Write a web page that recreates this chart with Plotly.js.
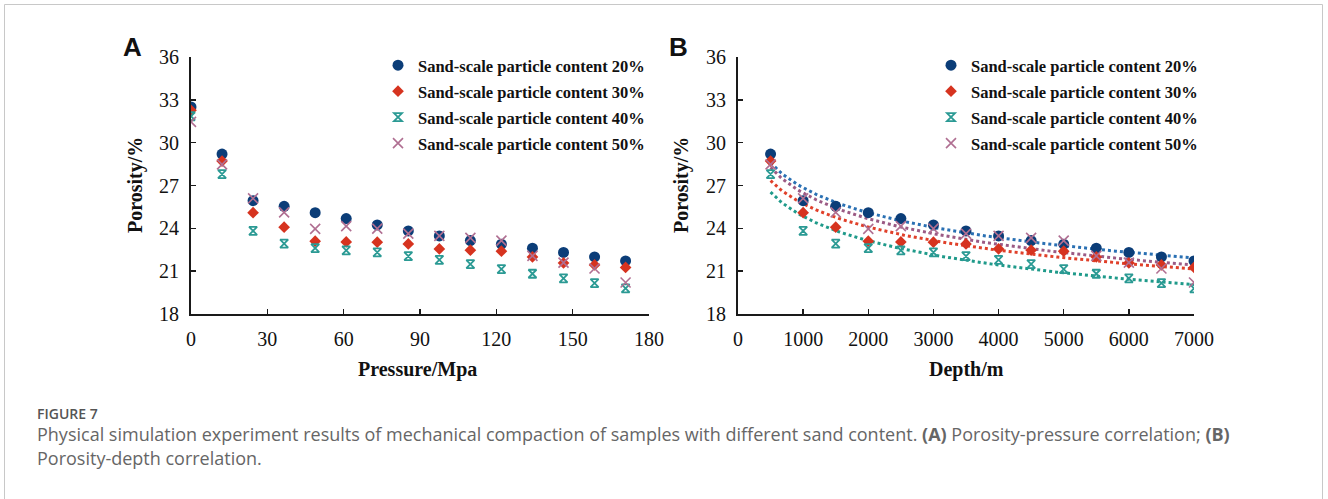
<!DOCTYPE html>
<html>
<head>
<meta charset="utf-8">
<script src="https://cdn.plot.ly/plotly-3.0.1.min.js"></script>
<style>
  html, body { margin: 0; padding: 0; background: #ffffff; }
  #chart { width: 1328px; height: 499px; }
</style>
</head>
<body>
<div id="chart"></div>
<script>
// ---- Data ----
const seriesNames = [
  "Sand-scale particle content 20%",
  "Sand-scale particle content 30%",
  "Sand-scale particle content 40%",
  "Sand-scale particle content 50%"
];
// Panel A: pressure (MPa)
const pressure = [0, 12.2, 24.4, 36.6, 48.8, 61, 73.2, 85.4, 97.6, 109.8, 122, 134.2, 146.4, 158.6, 170.8];
// Panel B: depth (m), same measurements without the surface point
const depth = [500, 1000, 1500, 2000, 2500, 3000, 3500, 4000, 4500, 5000, 5500, 6000, 6500, 7000];

const porosity20 = [32.5, 29.2, 25.94, 25.54, 25.1, 24.68, 24.24, 23.82, 23.47, 23.14, 22.89, 22.61, 22.31, 22.0, 21.72];
const porosity30 = [32.27, 28.71, 25.1, 24.08, 23.1, 23.05, 23.03, 22.91, 22.56, 22.47, 22.4, 22.0, 21.58, 21.44, 21.26];
const porosity40 = [31.85, 27.8, 23.82, 22.93, 22.61, 22.45, 22.31, 22.05, 21.79, 21.49, 21.14, 20.82, 20.49, 20.16, 19.79];
const porosity50 = [31.46, 28.48, 26.1, 25.12, 23.96, 24.15, 23.98, 23.63, 23.47, 23.33, 23.14, 22.07, 21.6, 21.19, 20.21];

const yTicks = [18, 21, 24, 27, 30, 33, 36];
const xTicksA = [0, 30, 60, 90, 120, 150, 180];
const xTicksB = [0, 1000, 2000, 3000, 4000, 5000, 6000, 7000];

// ---- Styles ----
const markerStyles = [
  {symbol: "circle", size: 11, color: "#0b3d78", line: {width: 0}},
  {symbol: "diamond", size: 9, color: "#d6331f", line: {width: 0}},
  {symbol: "hourglass-open", size: 8, color: "#2b9a94", line: {width: 1.8, color: "#2b9a94"}},
  {symbol: "x-thin-open", size: 10, color: "#b06f92", line: {width: 1.6, color: "#b06f92"}}
];
const fitColors = ["#2a70b3", "#e0402a", "#1f9a8a", "#9b5a84"];
const seriesA = [porosity20, porosity30, porosity40, porosity50];

// logarithmic least-squares fit y = a ln(x) + b, computed from the data
function logFit(xs, ys) {
  const n = xs.length;
  let sx = 0, sy = 0, sxx = 0, sxy = 0;
  for (let i = 0; i < n; i++) {
    const lx = Math.log(xs[i]);
    sx += lx; sy += ys[i]; sxx += lx * lx; sxy += lx * ys[i];
  }
  const a = (n * sxy - sx * sy) / (n * sxx - sx * sx);
  const b = (sy - a * sx) / n;
  return {a, b};
}

const traces = [];
// Panel A markers
seriesA.forEach((ys, i) => {
  traces.push({
    type: "scatter", mode: "markers", x: pressure, y: ys,
    name: seriesNames[i], xaxis: "x", yaxis: "y",
    marker: markerStyles[i], legend: "legend", legendgroup: "a" + i
  });
});
// Panel B fitted trend lines (drawn under markers)
seriesA.forEach((ys, i) => {
  const yb = ys.slice(1);
  const f = logFit(depth, yb);
  const fx = [], fy = [];
  const steps = 130;
  for (let k = 0; k <= steps; k++) {
    const d = depth[0] + (depth[depth.length - 1] - depth[0]) * k / steps;
    fx.push(d); fy.push(f.a * Math.log(d) + f.b);
  }
  traces.push({
    type: "scatter", mode: "lines", x: fx, y: fy, xaxis: "x2", yaxis: "y2",
    line: {color: fitColors[i], width: 3, dash: "dot"}, showlegend: false, hoverinfo: "skip"
  });
});
// Panel B markers
seriesA.forEach((ys, i) => {
  traces.push({
    type: "scatter", mode: "markers", x: depth, y: ys.slice(1),
    name: seriesNames[i], xaxis: "x2", yaxis: "y2",
    marker: markerStyles[i], legend: "legend2", legendgroup: "b" + i
  });
});

const W = 1328, H = 499;
const px = v => v / W, py = v => 1 - v / H;
const tickFont = {family: "Liberation Serif, Times New Roman, serif", size: 20, color: "#111"};
const axisCommon = {
  showline: true, linecolor: "#1a1a1a", linewidth: 2, mirror: false,
  showgrid: false, zeroline: false, ticks: "inside", ticklen: 5, tickwidth: 1.5, tickcolor: "#1a1a1a",
  tickfont: tickFont, fixedrange: true
};
const yDomain = [py(314), py(57)];
const legendFont = {family: "Liberation Serif, Times New Roman, serif", size: 16.5, color: "#111", weight: "bold"};
const legendCommon = {
  font: legendFont, bgcolor: "rgba(0,0,0,0)", borderwidth: 0,
  tracegroupgap: 1.5, itemwidth: 30, xanchor: "left", yanchor: "top", yref: "paper", xref: "paper"
};
const titleFont = {family: "Liberation Serif, Times New Roman, serif", size: 20, color: "#111", weight: "bold"};
const capFont = {family: "Open Sans, Noto Sans, sans-serif", size: 18, color: "#666"};

const layout = {
  width: W, height: H,
  margin: {l: 0, r: 0, t: 0, b: 0},
  paper_bgcolor: "#ffffff", plot_bgcolor: "rgba(0,0,0,0)",
  showlegend: true,
  xaxis: Object.assign({}, axisCommon, {domain: [px(191), px(649)], range: [0, 180], tickvals: xTicksA, anchor: "y", ticklabelstandoff: 6}),
  yaxis: Object.assign({}, axisCommon, {domain: yDomain, range: [18, 36], tickvals: yTicks, anchor: "x", ticklabelstandoff: 6}),
  xaxis2: Object.assign({}, axisCommon, {domain: [px(738), px(1194)], range: [0, 7000], tickvals: xTicksB, anchor: "y2", ticklabelstandoff: 6}),
  yaxis2: Object.assign({}, axisCommon, {domain: yDomain, range: [18, 36], tickvals: yTicks, anchor: "x2", ticklabelstandoff: 6}),
  legend: Object.assign({}, legendCommon, {x: px(378), y: py(48)}),
  legend2: Object.assign({}, legendCommon, {x: px(931), y: py(48)}),
  annotations: [
    {text: "<b>A</b>", x: px(132), y: py(47), xref: "paper", yref: "paper", showarrow: false,
     font: {family: "Liberation Sans, Arial, sans-serif", size: 26, color: "#111"}, xanchor: "center", yanchor: "middle"},
    {text: "<b>B</b>", x: px(678), y: py(47), xref: "paper", yref: "paper", showarrow: false,
     font: {family: "Liberation Sans, Arial, sans-serif", size: 26, color: "#111"}, xanchor: "center", yanchor: "middle"},
    {text: "Porosity/%", x: px(135), y: py(185), xref: "paper", yref: "paper", showarrow: false, textangle: -90,
     font: titleFont, xanchor: "center", yanchor: "middle"},
    {text: "Porosity/%", x: px(681), y: py(185), xref: "paper", yref: "paper", showarrow: false, textangle: -90,
     font: titleFont, xanchor: "center", yanchor: "middle"},
    {text: "Pressure/Mpa", x: px(417), y: py(369), xref: "paper", yref: "paper", showarrow: false,
     font: titleFont, xanchor: "center", yanchor: "middle"},
    {text: "Depth/m", x: px(967), y: py(369), xref: "paper", yref: "paper", showarrow: false,
     font: titleFont, xanchor: "center", yanchor: "middle"},
    {text: "FIGURE 7", x: px(35), y: py(413), xref: "paper", yref: "paper", showarrow: false,
     font: {family: "Open Sans, Noto Sans, sans-serif", size: 14, color: "#555", weight: 600}, xanchor: "left", yanchor: "middle"},
    {text: "Physical simulation experiment results of mechanical compaction of samples with different sand content. <b>(A)</b> Porosity-pressure correlation; <b>(B)</b>",
     x: px(35), y: py(434), xref: "paper", yref: "paper", showarrow: false,
     font: capFont, xanchor: "left", yanchor: "middle"},
    {text: "Porosity-depth correlation.",
     x: px(35), y: py(458), xref: "paper", yref: "paper", showarrow: false,
     font: capFont, xanchor: "left", yanchor: "middle"}
  ],
  shapes: [
    {type: "rect", xref: "paper", yref: "paper", x0: px(4.5), x1: px(1322.5), y0: py(510), y1: py(4.5),
     line: {color: "#c8c8c8", width: 1}, fillcolor: "rgba(0,0,0,0)", layer: "below"}
  ]
};

Plotly.newPlot("chart", traces, layout, {displayModeBar: false, staticPlot: true});
</script>
</body>
</html>
